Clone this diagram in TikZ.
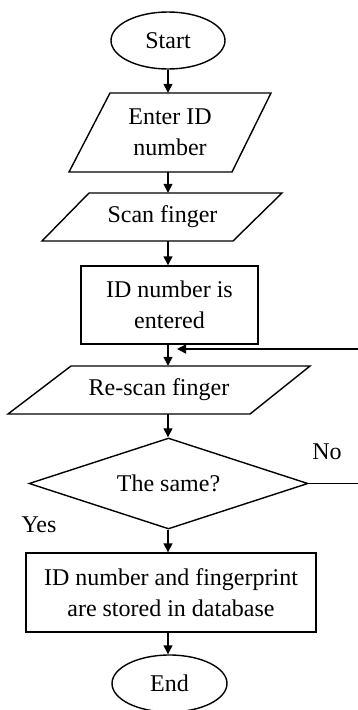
\documentclass[tikz,border=0pt]{standalone}
\usepackage{fontspec}
\setmainfont{Liberation Serif}
\usetikzlibrary{shapes.geometric,arrows.meta}
\begin{document}
\begin{tikzpicture}[x=1pt,y=-1pt,
  ln/.style={line width=1.4pt},
  arr/.style={ln,-{Triangle[length=9pt,width=9pt]}},
  lbl/.style={font=\fontsize{24}{30.5}\selectfont,align=center,inner sep=0pt},
  term/.style={lbl,ellipse,draw,ln},
  boxnode/.style={lbl,rectangle,draw,ln},
  ionode/.style={lbl},
  decide/.style={lbl,diamond,draw,ln,aspect=3.07}]
\useasboundingbox (0,0) rectangle (358,710);
\coordinate (axis) at (168,0);
% nodes
\node[term,minimum width=114,minimum height=57] (start) at (168,40.5) {Start};
\node[ionode,minimum height=79] (enter) at (170,132.5) {Enter ID\\number};
\draw[ln] (110,93)--(271,93)--(232,172)--(69,172)--cycle;
\node[ionode,minimum height=48] (scan) at (162.5,217) {Scan finger};
\draw[ln] (89,193)--(282,193)--(233,241)--(42,241)--cycle;
\node[boxnode,minimum width=177,minimum height=78] (idbox) at (169.5,305) {ID number is\\entered};
\node[ionode,minimum height=48] (rescan) at (159,390) {Re-scan finger};
\draw[ln] (71,366)--(310,366)--(250,414)--(8,414)--cycle;
\node[decide,minimum width=279,minimum height=91] (same) at (168.5,483.5) {The same?};
\node[boxnode,minimum width=290,minimum height=79] (store) at (171,592.5) {ID number and fingerprint\\are stored in database};
\node[term,minimum width=115,minimum height=57] (end) at (169.5,683.5) {End};
% labels
\node[lbl] (no) at (327,452) {No};
\node[lbl] (yes) at (39,525) {Yes};
% connectors
\draw[arr] (start.south -| axis) -- (enter.north -| axis);
\draw[arr] (enter.south -| axis) -- (scan.north -| axis);
\draw[arr] (scan.south -| axis) -- (idbox.north -| axis);
\draw[arr] (idbox.south -| axis) -- (rescan.north -| axis);
\draw[arr] (rescan.south -| axis) -- (same.north -| axis);
\draw[arr] (same.south -| axis) -- (store.north -| axis);
\draw[arr] (store.south -| axis) -- (end.north -| axis);
% loop back (cropped at right edge)
\coordinate (noend) at (358,483.5);
\coordinate (backin) at (358,349);
\coordinate (join) at (177,349);
\draw[ln] (same.east) -- (noend);
\draw[arr] (backin) -- (join);
\end{tikzpicture}
\end{document}
